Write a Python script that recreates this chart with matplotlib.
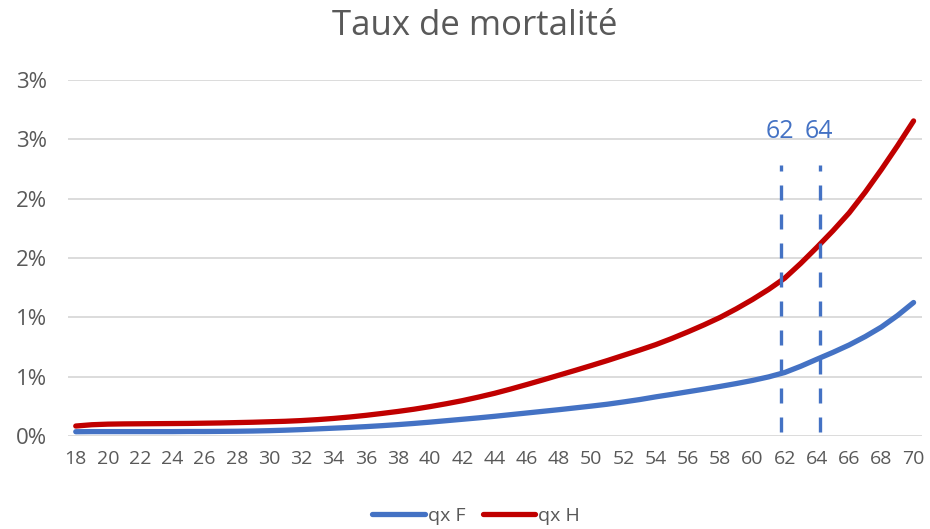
import matplotlib
matplotlib.use("Agg")
import matplotlib.pyplot as plt
from matplotlib.ticker import FixedLocator, FixedFormatter

plt.rcParams['font.family'] = ['Open Sans', 'DejaVu Sans']

ages = list(range(18, 71))
qx_H = [0.084, 0.095, 0.100, 0.102, 0.103, 0.104, 0.105, 0.106, 0.108, 0.110,
        0.113, 0.116, 0.120, 0.124, 0.130, 0.138, 0.148, 0.160, 0.174, 0.190,
        0.207, 0.226, 0.248, 0.272, 0.298, 0.328, 0.360, 0.396, 0.434, 0.473,
        0.513, 0.553, 0.594, 0.636, 0.680, 0.724, 0.770, 0.822, 0.878, 0.937,
        1.000, 1.072, 1.150, 1.235, 1.330, 1.455, 1.590, 1.730, 1.880, 2.055,
        2.245, 2.445, 2.655]
qx_F = [0.036, 0.037, 0.037, 0.037, 0.037, 0.037, 0.037, 0.038, 0.038, 0.039,
        0.040, 0.042, 0.045, 0.049, 0.054, 0.060, 0.066, 0.072, 0.079, 0.087,
        0.096, 0.106, 0.117, 0.129, 0.141, 0.153, 0.166, 0.180, 0.194, 0.208,
        0.222, 0.237, 0.252, 0.268, 0.287, 0.307, 0.330, 0.351, 0.373, 0.395,
        0.418, 0.442, 0.468, 0.498, 0.535, 0.588, 0.647, 0.705, 0.767, 0.838,
        0.918, 1.015, 1.125]
series_labels = ['qx F', 'qx H']
y_ticks = [0.0, 0.5, 1.0, 1.5, 2.0, 2.5, 3.0]
y_tick_labels = ['0%', '1%', '1%', '2%', '2%', '3%', '3%']
x_tick_ages = list(range(18, 71, 2))
marked_ages = [62, 64]
title = 'Taux de mortalité'

BLUE = '#4472C4'
RED = '#C00000'
GREY = '#595959'

fig = plt.figure(figsize=(9.30, 5.29), dpi=100)
ax = fig.add_axes([0.0728, 0.1758, 0.9182, 0.673])

ax.plot(ages, qx_F, color=BLUE, lw=3.8, solid_capstyle='round', label=series_labels[0], zorder=3)
ax.plot(ages, qx_H, color=RED, lw=3.8, solid_capstyle='round', label=series_labels[1], zorder=3)

offsets = [-0.22, 0.2]
for a, off in zip(marked_ages, offsets):
    ax.vlines(a + off, 0.034, 2.283, colors=BLUE, lw=2.4, linestyles=(0, (4.5, 4.2)), zorder=4)
    ax.text(a + off - 0.1, 2.57, str(a), color=BLUE, fontsize=18, ha='center', va='center')

ax.set_xlim(17.5, 70.5)
ax.set_ylim(0, 3.0)
ax.yaxis.set_major_locator(FixedLocator(y_ticks))
ax.yaxis.set_major_formatter(FixedFormatter(y_tick_labels))
ax.set_xticks(x_tick_ages)
ax.set_xticklabels([str(a) for a in x_tick_ages])
ax.tick_params(axis='both', length=0, colors=GREY)
ax.tick_params(axis='y', labelsize=16, pad=15)
ax.tick_params(axis='x', labelsize=14, pad=10)
ax.grid(axis='y', color='#D9D9D9', lw=1.3)
ax.set_axisbelow(True)
for s in ax.spines.values():
    s.set_visible(False)

fig.text(0.511, 0.950, title, ha='center', va='center', fontsize=25, color=GREY)

leg = fig.legend(loc='center', bbox_to_anchor=(0.512, 0.024), ncol=2, frameon=False,
                 fontsize=14, handlelength=2.7, handletextpad=0.15, columnspacing=0.9,
                 labelcolor=GREY)

fig.savefig('out.png', dpi=100)
